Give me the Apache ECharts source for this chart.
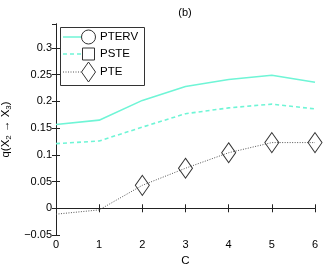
<!DOCTYPE html>
<html><head><meta charset="utf-8">
<script src="https://cdn.jsdelivr.net/npm/echarts@6/dist/echarts.min.js"></script>
<style>html,body{margin:0;padding:0;background:#fff}#c{width:327px;height:264px}</style>
</head><body><div id="c"></div>
<script>
var categories = [0, 1, 2, 3, 4, 5, 6];
var pterv = [0.157, 0.165, 0.202, 0.228, 0.241, 0.249, 0.236];
var pste  = [0.121, 0.126, 0.152, 0.177, 0.188, 0.195, 0.186];
var pte   = [-0.011, -0.003, 0.043, 0.075, 0.104, 0.123, 0.123];
var seriesNames = ['PTERV', 'PSTE', 'PTE'];
var yTicks = [-0.05, 0, 0.05, 0.1, 0.15, 0.2, 0.25, 0.3];

var FONT = '"Liberation Sans", Arial, sans-serif';
var CYAN = '#6ff5d6';
var chart = echarts.init(document.getElementById('c'), null, {renderer: 'canvas'});

function fmtY(v) {
  var r = Math.round(v * 1000) / 1000;
  var s = String(r);
  if (r < 0) s = '\u2212' + String(-r);
  return s;
}

var pts = function (arr) { return arr.map(function (v, i) { return [categories[i], v]; }); };

var lx = 60, ly = 27, rowY = [37, 54, 72];
var graphics = [
  {type: 'rect', shape: {x: lx + 0.5, y: ly + 0.5, width: 84, height: 58}, style: {fill: '#fff', stroke: '#333', lineWidth: 1}, z: 100},
  {type: 'line', shape: {x1: 63, y1: rowY[0], x2: 81, y2: rowY[0]}, style: {stroke: CYAN, lineWidth: 1.5}, z: 101},
  {type: 'line', shape: {x1: 63, y1: rowY[1], x2: 81, y2: rowY[1]}, style: {stroke: CYAN, lineWidth: 1.5, lineDash: [4, 3]}, z: 101},
  {type: 'line', shape: {x1: 63, y1: rowY[2], x2: 81, y2: rowY[2]}, style: {stroke: '#555', lineWidth: 1, lineDash: [1, 1.5]}, z: 101},
  {type: 'circle', shape: {cx: 88.5, cy: rowY[0], r: 7}, style: {fill: 'none', stroke: '#333', lineWidth: 1}, z: 102},
  {type: 'rect', shape: {x: 82.5, y: rowY[1] - 6, width: 12, height: 12}, style: {fill: 'none', stroke: '#333', lineWidth: 1}, z: 102},
  {type: 'polygon', shape: {points: [[88.5, rowY[2] - 10], [95.5, rowY[2]], [88.5, rowY[2] + 10], [81.5, rowY[2]]]}, style: {fill: 'none', stroke: '#333', lineWidth: 1}, z: 102}
];
seriesNames.forEach(function (n, i) {
  graphics.push({type: 'text', x: 100, y: rowY[i], style: {text: n, fill: '#000', font: '11.5px ' + FONT, textVerticalAlign: 'middle'}, z: 102});
});
graphics.push({type: 'text', x: 185, y: 13, style: {text: '(b)', fill: '#000', font: '11px ' + FONT, textAlign: 'center', textVerticalAlign: 'middle'}});

var axisLineStyle = {color: '#222', width: 1};
var option = {
  animation: false,
  backgroundColor: '#fff',
  grid: {left: 56, right: 12, top: 24, bottom: 29, containLabel: false, outerBoundsMode: 'none'},
  xAxis: [{
    type: 'value', min: 0, max: 6, interval: 1,
    name: 'C', nameLocation: 'middle', nameGap: 17,
    nameTextStyle: {fontFamily: FONT, fontSize: 11.5, color: '#000'},
    axisLine: {lineStyle: axisLineStyle},
    axisTick: {inside: true, length: 4, lineStyle: axisLineStyle},
    axisLabel: {fontFamily: FONT, fontSize: 11, color: '#000', margin: 4},
    splitLine: {show: false}
  }, {
    type: 'value', min: 0, max: 6, interval: 1, position: 'top',
    axisLine: {lineStyle: axisLineStyle},
    axisTick: {inside: true, length: 4, lineStyle: axisLineStyle},
    axisLabel: {show: false}, splitLine: {show: false}
  }],
  yAxis: [{
    type: 'value', min: -0.05, max: 0.345, interval: 0.05,
    name: 'q(X{s|2} \u2192 X{s|3})', nameLocation: 'middle', nameGap: 36,
    nameTextStyle: {fontFamily: FONT, fontSize: 11.5, color: '#000',
      rich: {s: {fontFamily: FONT, fontSize: 8, color: '#000', verticalAlign: 'bottom', padding: [7, 0, 0, 0]}}},
    axisLine: {lineStyle: axisLineStyle},
    axisTick: {inside: true, length: 4, lineStyle: axisLineStyle},
    axisLabel: {fontFamily: FONT, fontSize: 11, color: '#000', margin: 4, showMaxLabel: false,
      formatter: function (v) { return fmtY(v); }},
    splitLine: {show: false}
  }, {
    type: 'value', min: -0.05, max: 0.345, interval: 0.05, position: 'right',
    axisLine: {lineStyle: axisLineStyle},
    axisTick: {inside: true, length: 4, lineStyle: axisLineStyle},
    axisLabel: {show: false}, splitLine: {show: false}
  }],
  graphic: graphics,
  series: [{
    name: seriesNames[0], type: 'line', data: pts(pterv), showSymbol: false, symbol: 'none',
    lineStyle: {color: CYAN, width: 1.6}, itemStyle: {color: CYAN}
  }, {
    name: seriesNames[1], type: 'line', data: pts(pste), showSymbol: false, symbol: 'none',
    lineStyle: {color: CYAN, width: 1.6, type: [4, 3]}, itemStyle: {color: CYAN}
  }, {
    name: seriesNames[2], type: 'line', data: pts(pte),
    symbol: function (v, p) { return p.dataIndex >= 2 ? 'diamond' : 'none'; },
    symbolSize: [14, 20], showAllSymbol: true,
    lineStyle: {color: '#555', width: 1, type: [1, 1.5]},
    itemStyle: {color: 'rgba(0,0,0,0)', borderColor: '#333', borderWidth: 1}
  }]
};
chart.setOption(option);
</script></body></html>
